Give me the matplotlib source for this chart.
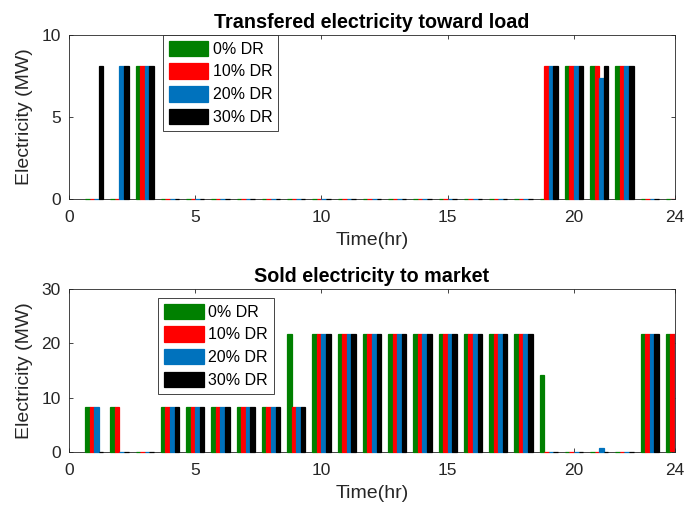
import matplotlib.pyplot as plt
import numpy as np

plt.rcParams['font.family'] = ['Liberation Sans', 'DejaVu Sans']

hours = np.arange(1, 25)
labels = ['0% DR', '10% DR', '20% DR', '30% DR']
colors = ['#008000', '#ff0000', '#0072bd', '#000000']

# transferred electricity toward load (MW)
load_0 = [0, 0, 8.1, 0, 0, 0, 0, 0, 0, 0, 0, 0, 0, 0, 0, 0, 0, 0, 0, 8.1, 8.1, 8.1, 0, 0]
load_10 = [0, 0, 8.1, 0, 0, 0, 0, 0, 0, 0, 0, 0, 0, 0, 0, 0, 0, 0, 8.1, 8.1, 8.1, 8.1, 0, 0]
load_20 = [0, 8.1, 8.1, 0, 0, 0, 0, 0, 0, 0, 0, 0, 0, 0, 0, 0, 0, 0, 8.1, 8.1, 7.4, 8.1, 0, 0]
load_30 = [8.1, 8.1, 8.1, 0, 0, 0, 0, 0, 0, 0, 0, 0, 0, 0, 0, 0, 0, 0, 8.1, 8.1, 8.1, 8.1, 0, 0]

# sold electricity to market (MW)
sold_0 = [8.2, 8.2, 0, 8.2, 8.2, 8.2, 8.2, 8.2, 21.7, 21.7, 21.7, 21.7, 21.7, 21.7, 21.7, 21.7,
          21.7, 21.7, 14.2, 0, 0, 0, 21.7, 21.7]
sold_10 = [8.2, 8.2, 0, 8.2, 8.2, 8.2, 8.2, 8.2, 8.2, 21.7, 21.7, 21.7, 21.7, 21.7, 21.7, 21.7,
           21.7, 21.7, 0, 0, 0, 0, 21.7, 21.7]
sold_20 = [8.2, 0, 0, 8.2, 8.2, 8.2, 8.2, 8.2, 8.2, 21.7, 21.7, 21.7, 21.7, 21.7, 21.7, 21.7,
           21.7, 21.7, 0, 0, 0.8, 0, 21.7, 21.7]
sold_30 = [0, 0, 0, 8.2, 8.2, 8.2, 8.2, 8.2, 8.2, 21.7, 21.7, 21.7, 21.7, 21.7, 21.7, 21.7,
           21.7, 21.7, 0, 0, 0, 0, 21.7, 21.7]

fig = plt.figure(figsize=(6.86, 5.13), dpi=100)
ax1 = fig.add_axes([69/686, 1-199/513, 606/686, 164/513])
ax2 = fig.add_axes([69/686, 1-452/513, 606/686, 163/513])


def draw(ax, series, ymax, yticks, title, leg_anchor):
    w = (4/5.5)/4
    for i, (vals, c, lab) in enumerate(zip(series, colors, labels)):
        bars = ax.bar(hours + (i-1.5)*w, vals, width=w, color=c, edgecolor=c,
                      linewidth=0.9, label=lab, zorder=3)
        # let the zero-height bars show as dashes on the baseline
        for p in bars:
            if p.get_x() + p.get_width() <= 24:
                p.set_clip_on(False)
    ax.set_xlim(0, 24)
    ax.set_ylim(0, ymax)
    ax.set_xticks([0, 5, 10, 15, 20, 24])
    ax.set_yticks(yticks)
    ax.tick_params(direction='in', top=True, right=True, labelsize=12.5,
                   colors='#262626', length=3, width=0.6)
    ax.tick_params(axis='x', pad=8)
    ax.tick_params(axis='y', pad=6)
    for s in ax.spines.values():
        s.set_color('#262626')
        s.set_linewidth(0.6)
    ax.set_xlabel('Time(hr)', fontsize=14, color='#262626', labelpad=5)
    ax.set_ylabel('Electricity (MW)', fontsize=14, color='#262626', labelpad=6)
    ax.set_title(title, fontsize=14.2, fontweight='bold', pad=5)
    leg = ax.legend(loc='upper left', bbox_to_anchor=leg_anchor, borderaxespad=0,
                    fontsize=11.5, handlelength=2.5, handleheight=1.1, labelspacing=0.42,
                    handletextpad=0.3, borderpad=0.35, fancybox=False, framealpha=1)
    leg.get_frame().set_edgecolor('#262626')
    leg.get_frame().set_linewidth(0.6)
    leg.set_zorder(5)


draw(ax1, [load_0, load_10, load_20, load_30], 10, [0, 5, 10],
     'Transfered electricity toward load', (0.155, 1.0))
draw(ax2, [sold_0, sold_10, sold_20, sold_30], 30, [0, 10, 20, 30],
     'Sold electricity to market', (0.147, 0.945))

fig.savefig('out.png', dpi=100)
